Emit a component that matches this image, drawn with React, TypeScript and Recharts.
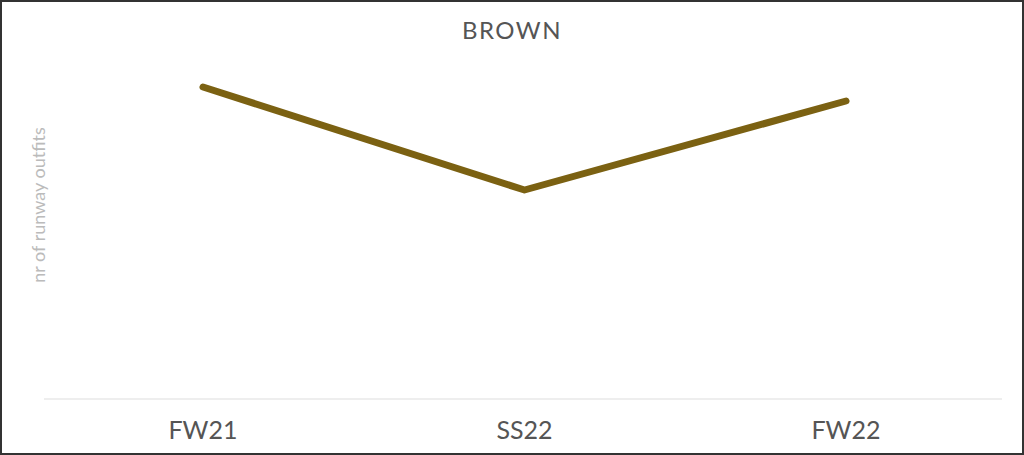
import React from 'react';
import { LineChart, Line, XAxis, YAxis } from 'recharts';

const categories = ['FW21', 'SS22', 'FW22'];
const outfits = [31.2, 20.9, 29.8];
const title = 'BROWN';
const yLabel = 'nr of runway outfits';

const data = categories.map((c, i) => ({ season: c, value: outfits[i] }));

const FONT = 'Lato, "Open Sans", sans-serif';

const YLabel = (props: any) => {
  const vb = props.viewBox || {};
  const x = (vb.x ?? 0) + (vb.width ?? 0) + 1;
  const y = (vb.y ?? 0) + (vb.height ?? 0) / 2 - 24;
  return (
    <text
      x={x}
      y={y}
      transform={`rotate(-90, ${x}, ${y})`}
      textAnchor="middle"
      fill="#bbbbbb"
      fontSize={18}
      fontFamily={FONT}
    >
      {yLabel}
    </text>
  );
};

export default function App() {
  return (
    <div
      style={{
        position: 'absolute',
        left: 0,
        top: 0,
        width: 1024,
        height: 455,
        boxSizing: 'border-box',
        border: '2px solid #333',
        background: '#fff',
      }}
    >
      <div
        style={{
          position: 'absolute',
          left: 0,
          top: 13,
          width: 1020,
          textAlign: 'center',
          fontFamily: FONT,
          fontSize: 24,
          color: '#555',
          lineHeight: '30px',
          letterSpacing: 1.5,
        }}
      >
        {title}
      </div>
      <LineChart
        width={1020}
        height={451}
        data={data}
        margin={{ top: 57, right: 20, bottom: 4, left: 0 }}
      >
        <XAxis
          dataKey="season"
          padding={{ left: 159, right: 156 }}
          axisLine={{ stroke: '#dddddd', strokeWidth: 1 }}
          tickLine={false}
          tickSize={0}
          tickMargin={22}
          height={50}
          tick={{ fill: '#555', fontSize: 25, fontFamily: FONT }}
        />
        <YAxis
          width={42}
          domain={[0, 34]}
          axisLine={false}
          tickLine={false}
          tick={false}
          label={<YLabel />}
        />
        <Line
          type="linear"
          dataKey="value"
          stroke="#7b6112"
          strokeWidth={7}
          strokeLinecap="round"
          strokeLinejoin="round"
          dot={false}
          activeDot={false}
          isAnimationActive={false}
        />
      </LineChart>
    </div>
  );
}
